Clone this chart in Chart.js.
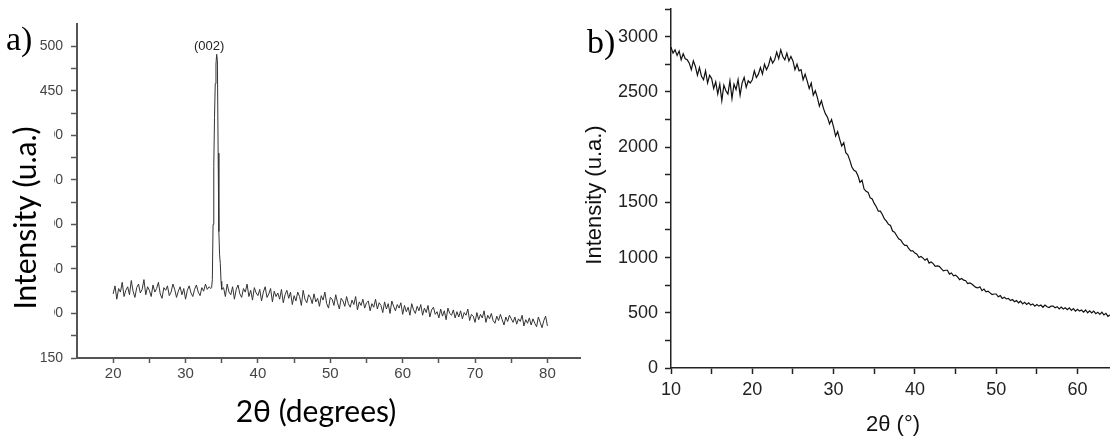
<!DOCTYPE html>
<html><head><meta charset="utf-8">
<script src="https://cdn.jsdelivr.net/npm/chart.js@4.4.0/dist/chart.umd.min.js"></script>
<style>
html,body{margin:0;padding:0;background:#fff;width:1110px;height:436px;overflow:hidden;}
#wa{position:absolute;left:0;top:0;width:600px;height:436px;}
#wb{position:absolute;left:560px;top:0;width:550px;height:436px;}
canvas{display:block;}
</style></head><body>
<div id="wa"><canvas id="ca" width="600" height="436"></canvas></div>
<div id="wb"><canvas id="cb" width="550" height="436"></canvas></div>
<script>
// ---------- Panel a) data ----------
const aLeftStart = 20, aLeftStep = 0.25;
const aLeftIntensity = [222,231,216,228,224,235,219,226,230,221,237,225,218,229,233,223,227,238,221,230,
  226,219,232,224,228,235,222,217,229,226,231,220,224,233,227,218,225,230,221,228,
  216,226,231,223,219,227,232,224,220,229,225,233,227,230,228];
const aPeakTheta = [33.6,33.7,33.8,33.9,34.0,34.1,34.2,34.3,34.4,34.5,34.6,34.7,34.8,34.9,35.0];
const aPeakIntensity = [229,238,300,365,420,458,480,491,484,380,292,266,256,236,227];
const aRightStart = 35.25, aRightStep = 0.25;
const aRightIntensity = [
  229,219,233,224,221,230,216,227,232,222, 218,228,224,233,219,226,215,229,223,220,
  227,214,224,230,218,222,228,213,225,219, 223,216,227,212,221,226,217,224,210,220,
  214,224,219,209,226,216,212,221,218,211, 222,213,217,208,220,215,224,211,206,218,
  216,209,221,212,205,217,214,208,219,211, 207,215,210,219,204,213,209,216,206,212,
  214,203,211,207,216,205,212,209,201,213, 205,211,200,214,208,203,210,206,212,199,
  209,202,207,198,211,204,200,208,203,210, 198,206,201,209,196,204,207,199,202,195,
  205,197,203,193,206,200,198,204,195,202, 196,203,194,201,198,205,192,199,197,190,
  201,193,199,195,203,190,198,194,200,192, 189,197,192,199,193,187,196,191,198,194,
  190,196,188,194,191,198,186,193,189,195, 187,194,189,185,196,190,184,192,197,186];
const aXTicks = [20,25,30,35,40,45,50,55,60,65,70,75,80];
const aXLabels = [20,30,40,50,60,70,80];
const aYTicks = [150,175,200,225,250,275,300,325,350,375,400,425,450,475,500];
const aYLabels = [150,200,250,300,350,400,450,500];

// ---------- Panel b) data ----------
const bStart = 10, bStep = 0.25;
const bIntensity = [
  2905,2850,2880,2830, 2870,2790,2845,2800, 2790,2760,2700,2780, 2730,2650,2720,2640,
  2610,2690,2580,2650, 2620,2530,2590,2480, 2570,2420,2560,2510, 2480,2600,2440,2570,
  2520,2610,2470,2580, 2630,2540,2600,2580, 2610,2690,2630,2660, 2720,2660,2750,2700,
  2740,2810,2760,2790, 2860,2800,2880,2820, 2790,2850,2780,2820, 2780,2700,2750,2690,
  2700,2610,2660,2600, 2530,2580,2470,2510, 2450,2370,2420,2350, 2300,2270,2210,2250,
  2180,2100,2140,2070, 2010,2040,1950,1930, 1880,1820,1790,1780, 1740,1680,1700,1620,
  1600,1590,1540,1530, 1490,1460,1420,1420, 1390,1350,1330,1300, 1290,1240,1230,1200,
  1170,1160,1130,1110, 1110,1080,1060,1060, 1040,1030,1000,1010, 995,975,990,950,
  960,945,920,925, 920,900,880,885, 885,850,860,835, 840,825,800,810,
  795,790,765,770, 760,745,730,725, 735,700,715,690, 695,680,665,670,
  670,645,655,630, 640,625,630,610, 620,600,610,590, 605,580,595,575,
  590,570,580,560, 575,560,570,550, 570,555,548,560, 560,545,555,535,
  552,535,545,528, 545,522,538,515, 532,515,525,505, 525,500,518,498,
  515,492,505,485, 505,480,495,468, 480];
const bXTicks = [10,15,20,25,30,35,40,45,50,55,60];
const bXLabels = [10,20,30,40,50,60];
const bYTicks = [0,250,500,750,1000,1250,1500,1750,2000,2250,2500,2750,3000,3250];
const bYLabels = [0,500,1000,1500,2000,2500,3000];

// ---------- build points ----------
const aPoints = [];
aLeftIntensity.forEach((v,i)=>aPoints.push({x:aLeftStart+i*aLeftStep, y:v}));
aPeakTheta.forEach((t,i)=>aPoints.push({x:t, y:aPeakIntensity[i]}));
aRightIntensity.forEach((v,i)=>aPoints.push({x:aRightStart+i*aRightStep, y:v}));
const bPoints = bIntensity.map((v,i)=>({x:bStart+i*bStep, y:v}));

function fit(w,h){return function(s){ if(w!=null) s.width=w; if(h!=null) s.height=h;
  s.paddingLeft=0; s.paddingRight=0; s.paddingTop=0; s.paddingBottom=0; };}
function setTicks(vals){return function(s){ s.ticks = vals.map(v=>({value:v})); };}
function lab(list){return function(v){ return list.includes(v) ? String(v) : ''; };}

// ---------- chart a ----------
const annA = {id:'annA', afterDraw(chart){
  const ctx = chart.ctx, xs = chart.scales.x, ys = chart.scales.y;
  ctx.save();
  ctx.fillStyle = '#fff';
  ctx.fillRect(0, 95, 54, 245);
  const iMax = aPeakIntensity.indexOf(Math.max(...aPeakIntensity));
  const px = xs.getPixelForValue(aPeakTheta[iMax]);
  const py = ys.getPixelForValue(aPeakIntensity[iMax]);
  ctx.fillStyle = '#222';
  ctx.font = '13px "Liberation Sans", Arial, sans-serif';
  ctx.textAlign = 'center'; ctx.textBaseline = 'alphabetic';
  ctx.fillText('(002)', px - 7.5, py - 4);
  ctx.fillStyle = '#000';
  ctx.font = '30px Lato, sans-serif';
  ctx.fillText('2θ (degrees)', 316, 422);
  ctx.font = '34px "Liberation Serif", serif';
  ctx.textAlign = 'left';
  ctx.fillText('a)', 6, 50);
  ctx.translate(36, 218); ctx.rotate(-Math.PI/2);
  ctx.font = '30px Lato, sans-serif';
  ctx.textAlign = 'center';
  ctx.fillText('Intensity (u.a.)', 0, 0);
  ctx.restore();
}};

new Chart(document.getElementById('ca'), {
  type:'line',
  data:{datasets:[{data:aPoints, borderColor:'#333', borderWidth:1, pointRadius:0, tension:0, fill:false}]},
  options:{
    responsive:false, animation:false, devicePixelRatio:1,
    layout:{padding:{top:24, right:20, left:0, bottom:0}},
    plugins:{legend:{display:false}, tooltip:{enabled:false}},
    scales:{
      x:{type:'linear', min:15, max:84.5, afterBuildTicks:setTicks(aXTicks), afterFit:fit(null,78),
        ticks:{autoSkip:false, maxRotation:0, padding:2, color:'#444',
          font:{family:'"Liberation Sans", Arial, sans-serif', size:15}, callback:lab(aXLabels)},
        grid:{drawOnChartArea:false, drawTicks:true, tickLength:5, tickColor:'#555', tickWidth:1.5},
        border:{display:true, color:'#555', width:2}},
      y:{type:'linear', min:150, max:525, afterBuildTicks:setTicks(aYTicks), afterFit:fit(77,null),
        ticks:{autoSkip:false, padding:8, color:'#444',
          font:{family:'"Liberation Sans", Arial, sans-serif', size:14}, callback:lab(aYLabels)},
        grid:{drawOnChartArea:false, drawTicks:true, tickLength:6, tickColor:'#555', tickWidth:1.5},
        border:{display:true, color:'#555', width:2}}
    }
  },
  plugins:[annA]
});

// ---------- chart b ----------
const annB = {id:'annB', afterDraw(chart){
  const ctx = chart.ctx;
  ctx.save();
  ctx.fillStyle = '#000';
  ctx.textBaseline = 'alphabetic';
  ctx.font = '34px "Liberation Serif", serif';
  ctx.textAlign = 'left';
  ctx.fillText('b)', 27, 53);
  ctx.fillStyle = '#111';
  ctx.font = '22px "Liberation Sans", Arial, sans-serif';
  ctx.textAlign = 'center';
  ctx.fillText('2θ (°)', 333, 431);
  ctx.translate(41, 195); ctx.rotate(-Math.PI/2);
  ctx.fillText('Intensity (u.a.)', 0, 0);
  ctx.restore();
}};

new Chart(document.getElementById('cb'), {
  type:'line',
  data:{datasets:[{data:bPoints, borderColor:'#111', borderWidth:1.2, pointRadius:0, tension:0, fill:false}]},
  options:{
    responsive:false, animation:false, devicePixelRatio:1,
    layout:{padding:{top:9, right:0, left:0, bottom:0}},
    plugins:{legend:{display:false}, tooltip:{enabled:false}},
    scales:{
      x:{type:'linear', min:10, max:64, afterBuildTicks:setTicks(bXTicks), afterFit:fit(null,68),
        ticks:{autoSkip:false, maxRotation:0, padding:5, color:'#222',
          font:{family:'"Liberation Sans", Arial, sans-serif', size:18}, callback:lab(bXLabels)},
        grid:{drawOnChartArea:false, drawTicks:true, tickLength:6, tickColor:'#222', tickWidth:1.5},
        border:{display:true, color:'#222', width:1.5}},
      y:{type:'linear', min:0, max:3250, afterBuildTicks:setTicks(bYTicks), afterFit:fit(111,null),
        ticks:{autoSkip:false, padding:7, color:'#222',
          font:{family:'"Liberation Sans", Arial, sans-serif', size:18}, callback:lab(bYLabels)},
        grid:{drawOnChartArea:false, drawTicks:true, tickLength:6, tickColor:'#222', tickWidth:1.5},
        border:{display:true, color:'#222', width:1.5}}
    }
  },
  plugins:[annB]
});
</script>
</body></html>
